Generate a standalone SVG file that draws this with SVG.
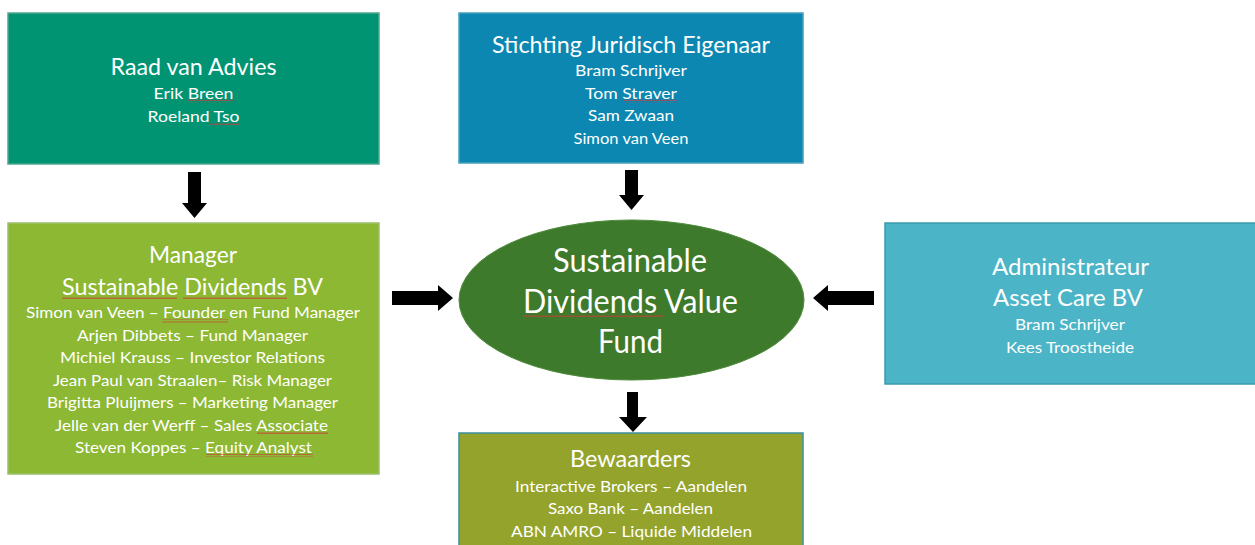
<svg xmlns="http://www.w3.org/2000/svg" width="1255" height="545" viewBox="0 0 1255 545">
  <style>
    text { font-family: "Lato", "Liberation Sans", sans-serif; fill: #ffffff; text-anchor: middle; }
    .t { font-size: 23px; }
    .b { font-size: 16px; }
    .e { font-size: 32px; }
    .box { stroke-width: 1.5; }
    .arrow { fill: #000000; }
    .sq { fill: none; stroke: #d03030; stroke-width: 0.8; }
  </style>
  <defs>
    <pattern id="squiggle" patternUnits="userSpaceOnUse" width="4" height="3">
      <path d="M0 2 L1 0.5 L2 2 L3 0.5 L4 2" fill="none" stroke="#d03a3a" stroke-width="0.7"/>
    </pattern>
  </defs>
  <rect width="1255" height="545" fill="#ffffff"/>

  <g id="raad">
    <rect class="box" x="8" y="13" width="371" height="151" fill="#009473" stroke="#4ea88e"/>
    <text class="t" x="193.5" y="75" textLength="166" lengthAdjust="spacingAndGlyphs">Raad van Advies</text>
    <text class="b" x="193.5" y="99" textLength="80" lengthAdjust="spacingAndGlyphs">Erik Breen</text>
    <text class="b" x="193.5" y="122" textLength="92" lengthAdjust="spacingAndGlyphs">Roeland Tso</text>
    <rect x="188" y="99.5" width="45" height="3" fill="url(#squiggle)"/>
    <rect x="210" y="122.5" width="29" height="3" fill="url(#squiggle)"/>
  </g>

  <g id="stichting">
    <rect class="box" x="459" y="13" width="344" height="150" fill="#0b87b1" stroke="#4a9fbd"/>
    <text class="t" x="631" y="53" textLength="278" lengthAdjust="spacingAndGlyphs">Stichting Juridisch Eigenaar</text>
    <text class="b" x="631" y="76" textLength="112" lengthAdjust="spacingAndGlyphs">Bram Schrijver</text>
    <text class="b" x="631" y="98.5" textLength="92" lengthAdjust="spacingAndGlyphs">Tom Straver</text>
    <text class="b" x="631" y="121" textLength="86" lengthAdjust="spacingAndGlyphs">Sam Zwaan</text>
    <text class="b" x="631" y="143.5" textLength="115" lengthAdjust="spacingAndGlyphs">Simon van Veen</text>
    <rect x="623" y="99.5" width="54" height="3" fill="url(#squiggle)"/>
  </g>

  <g id="manager">
    <rect class="box" x="8" y="223" width="371" height="251" fill="#8cb833" stroke="#9cbf6a"/>
    <text class="t" x="193" y="263" textLength="88" lengthAdjust="spacingAndGlyphs">Manager</text>
    <text class="t" x="192.5" y="295" textLength="261" lengthAdjust="spacingAndGlyphs">Sustainable Dividends BV</text>
    <text class="b" x="193" y="318" textLength="334" lengthAdjust="spacingAndGlyphs">Simon van Veen – Founder en Fund Manager</text>
    <text class="b" x="192.5" y="341" textLength="231" lengthAdjust="spacingAndGlyphs">Arjen Dibbets – Fund Manager</text>
    <text class="b" x="192.5" y="363" textLength="265" lengthAdjust="spacingAndGlyphs">Michiel Krauss – Investor Relations</text>
    <text class="b" x="192.5" y="386" textLength="279" lengthAdjust="spacingAndGlyphs">Jean Paul van Straalen– Risk Manager</text>
    <text class="b" x="192.5" y="408" textLength="291" lengthAdjust="spacingAndGlyphs">Brigitta Pluijmers – Marketing Manager</text>
    <text class="b" x="191.5" y="431" textLength="273" lengthAdjust="spacingAndGlyphs">Jelle van der Werff – Sales Associate</text>
    <text class="b" x="193.5" y="453" textLength="237" lengthAdjust="spacingAndGlyphs">Steven Koppes – Equity Analyst</text>
    <rect x="62" y="296" width="115" height="3" fill="url(#squiggle)"/>
    <rect x="183" y="296" width="104" height="3" fill="url(#squiggle)"/>
    <rect x="162" y="319.5" width="66" height="3" fill="url(#squiggle)"/>
    <rect x="257" y="432" width="71" height="3" fill="url(#squiggle)"/>
    <rect x="206" y="454" width="107" height="3" fill="url(#squiggle)"/>
  </g>

  <g id="fund">
    <ellipse cx="631.5" cy="300" rx="172.5" ry="80" fill="#3e7a2c" stroke="#4f8a3c" stroke-width="1"/>
    <text class="e" x="630" y="272" textLength="154" lengthAdjust="spacingAndGlyphs">Sustainable</text>
    <text class="e" x="630.5" y="313" textLength="215" lengthAdjust="spacingAndGlyphs">Dividends Value</text>
    <text class="e" x="630.5" y="353" textLength="65" lengthAdjust="spacingAndGlyphs">Fund</text>
    <rect x="523" y="314.5" width="140" height="3" fill="url(#squiggle)"/>
  </g>

  <g id="bewaarders">
    <rect class="box" x="459" y="433" width="344" height="120" fill="#94a32b" stroke="#3d8fa0"/>
    <text class="t" x="630.5" y="467" textLength="121" lengthAdjust="spacingAndGlyphs">Bewaarders</text>
    <text class="b" x="631" y="492" textLength="232" lengthAdjust="spacingAndGlyphs">Interactive Brokers – Aandelen</text>
    <text class="b" x="630.5" y="514" textLength="165" lengthAdjust="spacingAndGlyphs">Saxo Bank – Aandelen</text>
    <text class="b" x="631.5" y="537" textLength="241" lengthAdjust="spacingAndGlyphs">ABN AMRO – Liquide Middelen</text>
  </g>

  <g id="administrateur">
    <rect class="box" x="885" y="223" width="372" height="161" fill="#4bb4c6" stroke="#3a9aaa"/>
    <text class="t" x="1070.5" y="275" textLength="157" lengthAdjust="spacingAndGlyphs">Administrateur</text>
    <text class="t" x="1068" y="306" textLength="150" lengthAdjust="spacingAndGlyphs">Asset Care BV</text>
    <text class="b" x="1070" y="330" textLength="110" lengthAdjust="spacingAndGlyphs">Bram Schrijver</text>
    <text class="b" x="1070" y="353" textLength="128" lengthAdjust="spacingAndGlyphs">Kees Troostheide</text>
  </g>

  <g id="connectors">
    <path class="arrow" d="M188 172 H201 V203 H207 L194.5 218 L182 203 H188 Z"/>
    <path class="arrow" d="M625 170 H638 V195 H644 L631.5 210 L619 195 H625 Z"/>
    <path class="arrow" d="M392 291 H438 V285 L453 298 L438 311 V305 H392 Z"/>
    <path class="arrow" d="M874 291 H828 V285 L813 298 L828 311 V305 H874 Z"/>
    <path class="arrow" d="M627 392 H638 V417 H647 L633 432 L619 417 H627 Z"/>
  </g>
</svg>
